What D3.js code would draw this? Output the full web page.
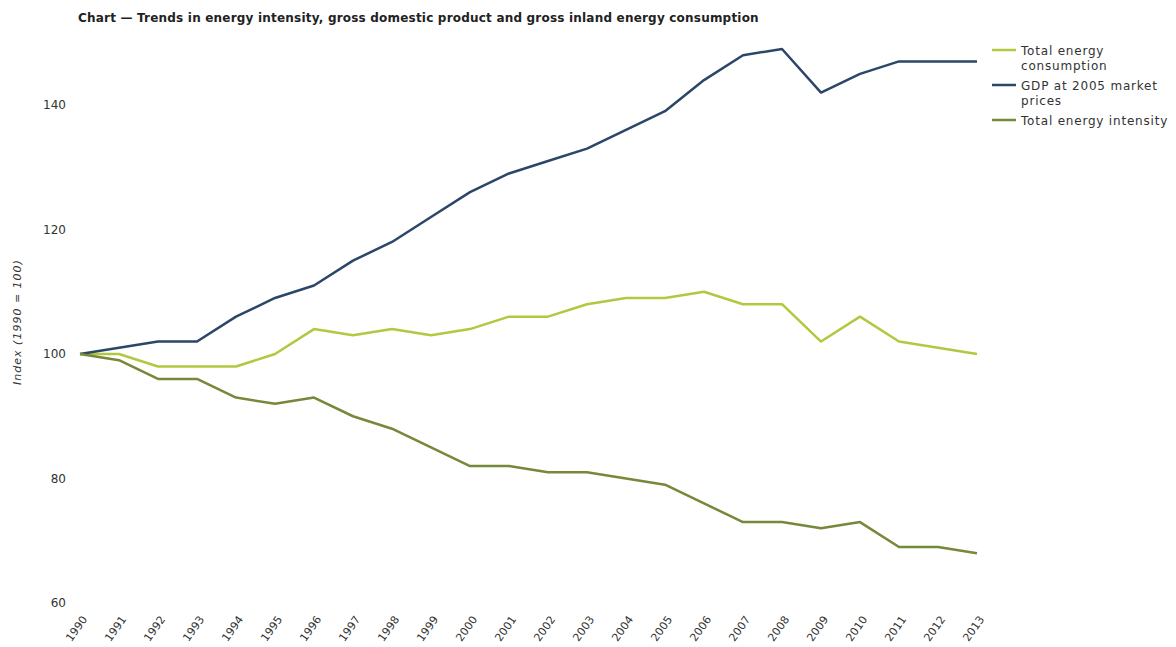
<!DOCTYPE html>
<html>
<head>
<meta charset="utf-8">
<script src="https://cdn.jsdelivr.net/npm/d3@7"></script>
<style>
  body { margin: 0; background: #fff; font-family: Verdana, "DejaVu Sans", sans-serif; }
  text { fill: #333; }
</style>
</head>
<body>
<script>
var years = [1990, 1991, 1992, 1993, 1994, 1995, 1996, 1997, 1998, 1999, 2000, 2001,
             2002, 2003, 2004, 2005, 2006, 2007, 2008, 2009, 2010, 2011, 2012, 2013];
var consumption = [100, 100, 98, 98, 98, 100, 104, 103, 104, 103, 104, 106,
                   106, 108, 109, 109, 110, 108, 108, 102, 106, 102, 101, 100];
var gdp = [100, 101, 102, 102, 106, 109, 111, 115, 118, 122, 126, 129,
           131, 133, 136, 139, 144, 148, 149, 142, 145, 147, 147, 147];
var intensity = [100, 99, 96, 96, 93, 92, 93, 90, 88, 85, 82, 82,
                 81, 81, 80, 79, 76, 73, 73, 72, 73, 69, 69, 68];
var yTicks = [60, 80, 100, 120, 140];

var series = [
  { name: ['Total energy', 'consumption'], values: consumption, color: '#b4c73e' },
  { name: ['GDP at 2005 market', 'prices'], values: gdp, color: '#2b4668' },
  { name: ['Total energy intensity'], values: intensity, color: '#76883a' }
];

var width = 1176, height = 647;
var svg = d3.select('body').append('svg').attr('width', width).attr('height', height);

// x = 80 .. 977, y: 60 -> 603, 140 -> 105
var x = d3.scalePoint().domain(years).range([80, 977]);
var y = d3.scaleLinear().domain([60, 140]).range([603, 105]);

svg.append('text')
  .attr('x', 78).attr('y', 22)
  .style('font-size', '12px').style('font-weight', 'bold')
  .style('letter-spacing', '0.2px')
  .style('fill', '#222')
  .text('Chart \u2014 Trends in energy intensity, gross domestic product and gross inland energy consumption');

// y axis
var yAxis = svg.append('g')
  .attr('transform', 'translate(66,0)')
  .call(d3.axisLeft(y).tickValues(yTicks).tickSize(0).tickPadding(0));
yAxis.select('.domain').remove();
yAxis.selectAll('text').style('font-size', '12px').style('font-family', 'Verdana, "DejaVu Sans", sans-serif').style('fill', '#333');

svg.append('text')
  .attr('transform', 'translate(21,322) rotate(-90)')
  .attr('text-anchor', 'middle')
  .style('font-size', '11px').style('font-style', 'italic')
  .style('letter-spacing', '1px')
  .text('Index (1990 = 100)');

// x axis
var xAxis = svg.append('g')
  .attr('transform', 'translate(0,612)')
  .call(d3.axisBottom(x).tickSize(0).tickPadding(0));
xAxis.select('.domain').remove();
xAxis.selectAll('text')
  .style('font-size', '11px').style('font-family', 'Verdana, "DejaVu Sans", sans-serif').style('fill', '#333')
  .attr('text-anchor', 'end')
  .attr('dy', '0.35em').attr('dx', '0')
  .attr('y', 0).attr('x', 0)
  .attr('transform', 'translate(4,5) rotate(-55)');

// lines
var line = d3.line()
  .x(function(d, i) { return x(years[i]); })
  .y(function(d) { return y(d); });

svg.selectAll('path.series')
  .data(series)
  .enter()
  .append('path')
  .attr('class', 'series')
  .attr('d', function(d) { return line(d.values); })
  .attr('fill', 'none')
  .attr('stroke', function(d) { return d.color; })
  .attr('stroke-width', 2.5)
  .attr('stroke-linejoin', 'round');

// legend
var legend = svg.append('g').attr('transform', 'translate(992,0)');
var ly = 50;
series.forEach(function(s) {
  legend.append('line')
    .attr('x1', 0).attr('x2', 24).attr('y1', ly).attr('y2', ly)
    .attr('stroke', s.color).attr('stroke-width', 2.5);
  s.name.forEach(function(t, j) {
    legend.append('text')
      .attr('x', 29).attr('y', ly + 5 + j * 15)
      .style('font-size', '12px')
      .style('letter-spacing', '0.8px')
      .text(t);
  });
  ly += s.name.length * 15 + 5;
});
</script>
</body>
</html>
